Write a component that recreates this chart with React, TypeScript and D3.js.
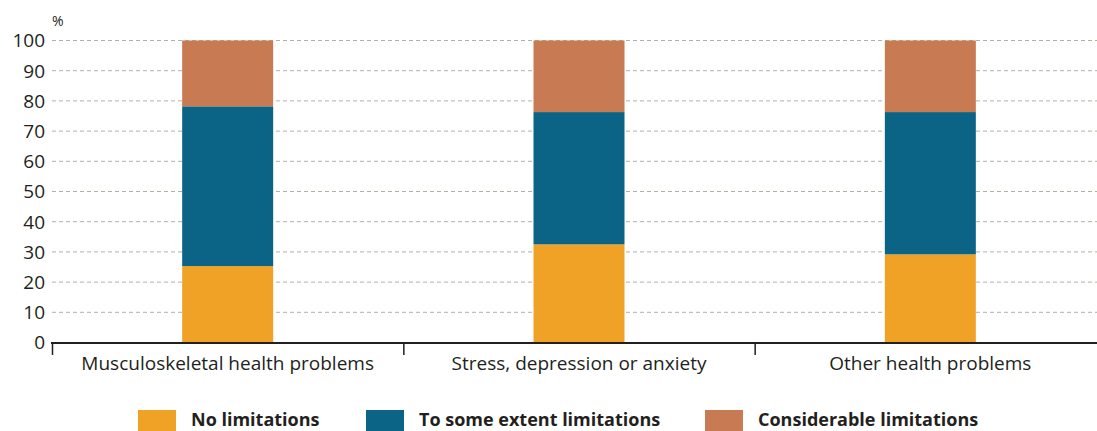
import React from "react";
import * as d3 from "d3";

const categories = ["Musculoskeletal health problems", "Stress, depression or anxiety", "Other health problems"];
const seriesNames = ["No limitations", "To some extent limitations", "Considerable limitations"];
const noLimitations = [25.3, 32.5, 29.2];
const someLimitations = [52.9, 43.8, 47.1];
const considerableLimitations = [21.8, 23.7, 23.7];
const yTicks = [0, 10, 20, 30, 40, 50, 60, 70, 80, 90, 100];
const colors = ["#f0a227", "#0b6386", "#c87a53"];

const W = 1097, H = 431;
const FONT = "'Open Sans', 'Noto Sans', sans-serif";
const TEXT = "#231f20";

export default function App() {
  const x = d3.scaleBand<string>().domain(categories).range([52, 1106]).paddingInner(0).paddingOuter(0);
  const y = d3.scaleLinear().domain([0, 100]).range([342.5, 40.5]);
  const rows = categories.map((c, i) => ({
    cat: c,
    s0: noLimitations[i],
    s1: someLimitations[i],
    s2: considerableLimitations[i],
  }));
  const stacked = d3.stack<any>().keys(["s0", "s1", "s2"])(rows);
  const barW = 91;

  const legendX = [138, 366, 705];

  return (
    <svg width={W} height={H} style={{ position: "absolute", left: 0, top: 0, background: "#fff" }} fontFamily={FONT}>
      <text x={52} y={26} fontSize={14} fill={TEXT}>%</text>
      {yTicks.map((t) => (
        <g key={t}>
          {t > 0 && (
            <line x1={52} x2={1097} y1={y(t)} y2={y(t)} stroke="#b3b1a4" strokeWidth={1} strokeDasharray="4,3" />
          )}
          <text x={45} y={y(t)} dy="0.36em" textAnchor="end" fontSize={19} fill={TEXT}>{t}</text>
        </g>
      ))}
      {stacked.map((s, si) => (
        <g key={si} fill={colors[si]}>
          {s.map((d: any, i: number) => (
            <rect
              key={i}
              x={(x(d.data.cat) as number) + x.bandwidth() / 2 - barW / 2}
              width={barW}
              y={y(d[1])}
              height={y(d[0]) - y(d[1])}
            />
          ))}
        </g>
      ))}
      <line x1={51} x2={1097} y1={343} y2={343} stroke={TEXT} strokeWidth={2} />
      {[0, 1, 2].map((i) => (
        <line key={i} x1={(x(categories[i]) as number) + 0.5} x2={(x(categories[i]) as number) + 0.5} y1={342} y2={355} stroke={TEXT} strokeWidth={1.5} />
      ))}
      {categories.map((c) => (
        <text key={c} x={(x(c) as number) + x.bandwidth() / 2} y={370} textAnchor="middle" fontSize={19} fill={TEXT}>{c}</text>
      ))}
      {seriesNames.map((n, i) => (
        <g key={n}>
          <rect x={legendX[i]} y={410} width={38} height={21} fill={colors[i]} />
          <text x={legendX[i] + 53} y={426} fontSize={18} fontWeight="bold" fill={TEXT}>{n}</text>
        </g>
      ))}
    </svg>
  );
}
